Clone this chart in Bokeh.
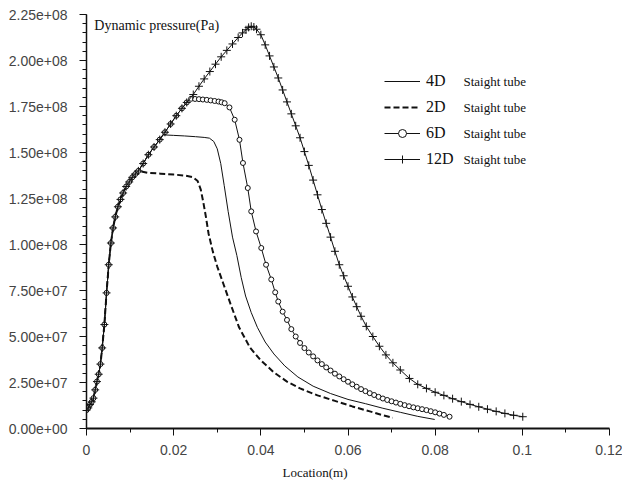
from bokeh.plotting import figure
from bokeh.models import FixedTicker, Legend, LegendItem, Label, Title
from bokeh.embed import file_html
from bokeh.resources import INLINE

# ---- data (Location in m, Dynamic pressure in Pa) ----
# common rising part shared by all four cases
rise_x = [0.0000, 0.0004, 0.0008, 0.0012, 0.0016, 0.0020, 0.0024, 0.0028, 0.0032, 0.0036,
          0.0041, 0.0046, 0.0051, 0.0056, 0.0061, 0.0066, 0.0072, 0.0078, 0.0084, 0.0091,
          0.0098, 0.0105, 0.0112, 0.0119]
rise_y = [1.00e7, 1.12e7, 1.30e7, 1.45e7, 1.65e7, 2.10e7, 2.55e7, 2.95e7, 3.50e7, 4.38e7,
          5.65e7, 7.37e7, 8.90e7, 1.008e8, 1.090e8, 1.150e8, 1.205e8, 1.245e8, 1.280e8, 1.315e8,
          1.340e8, 1.365e8, 1.383e8, 1.400e8]

# shared by 4D, 6D, 12D
upper_x = [0.0130, 0.0142, 0.0155, 0.0168]
upper_y = [1.440e8, 1.488e8, 1.530e8, 1.570e8]

# shared by 6D, 12D
mid_x = [0.0180, 0.0193, 0.0206, 0.0219, 0.0230]
mid_y = [1.610e8, 1.655e8, 1.700e8, 1.740e8, 1.772e8]

# 2D straight tube
d2_x = [0.0140, 0.0170, 0.0200, 0.0225, 0.0245, 0.0255, 0.0262, 0.0268, 0.0274, 0.0280,
        0.0290, 0.0300, 0.0315, 0.0330, 0.0350, 0.0375, 0.0400, 0.0430, 0.0460, 0.0490,
        0.0530, 0.0570, 0.0610, 0.0650, 0.0680, 0.0703]
d2_y = [1.390e8, 1.385e8, 1.380e8, 1.375e8, 1.365e8, 1.345e8, 1.300e8, 1.230e8, 1.150e8, 1.060e8,
        0.960e8, 0.880e8, 0.780e8, 0.680e8, 0.550e8, 0.440e8, 0.370e8, 0.305e8, 0.255e8, 0.218e8,
        0.180e8, 0.150e8, 0.120e8, 0.093e8, 0.072e8, 0.058e8]

# 4D straight tube
d4_x = [0.0175, 0.0200, 0.0225, 0.0250, 0.0270, 0.0282, 0.0292, 0.0300, 0.0308, 0.0316,
        0.0325, 0.0335, 0.0345, 0.0355, 0.0365, 0.0378, 0.0392, 0.0410, 0.0430, 0.0455,
        0.0485, 0.0520, 0.0560, 0.0600, 0.0640, 0.0680, 0.0720, 0.0760, 0.0799]
d4_y = [1.596e8, 1.593e8, 1.590e8, 1.586e8, 1.582e8, 1.578e8, 1.560e8, 1.520e8, 1.440e8, 1.320e8,
        1.180e8, 1.040e8, 0.940e8, 0.820e8, 0.720e8, 0.630e8, 0.550e8, 0.470e8, 0.405e8, 0.340e8,
        0.280e8, 0.230e8, 0.190e8, 0.158e8, 0.135e8, 0.110e8, 0.088e8, 0.066e8, 0.049e8]

# 6D straight tube
d6_x = [0.0240, 0.0249, 0.0258, 0.0267, 0.0276, 0.0285, 0.0294, 0.0303, 0.0310, 0.0317,
        0.0328, 0.0340, 0.0351, 0.0359, 0.0370, 0.0378, 0.0389, 0.0401, 0.0412, 0.0424,
        0.0433, 0.0440, 0.0450, 0.0460, 0.0470, 0.0480, 0.0490, 0.0500, 0.0510, 0.0520,
        0.0530, 0.0540, 0.0550, 0.0560, 0.0570, 0.0580, 0.0590, 0.0600, 0.0610, 0.0620,
        0.0630, 0.0640, 0.0650, 0.0660, 0.0670, 0.0680, 0.0690, 0.0700, 0.0710, 0.0720,
        0.0730, 0.0740, 0.0750, 0.0760, 0.0770, 0.0780, 0.0790, 0.0800, 0.0810, 0.0820,
        0.0833]
d6_y = [1.792e8, 1.791e8, 1.790e8, 1.788e8, 1.786e8, 1.783e8, 1.780e8, 1.777e8, 1.773e8, 1.768e8,
        1.745e8, 1.678e8, 1.569e8, 1.443e8, 1.307e8, 1.180e8, 1.071e8, 0.981e8, 0.890e8, 0.810e8,
        0.740e8, 0.690e8, 0.635e8, 0.590e8, 0.540e8, 0.500e8, 0.465e8, 0.437e8, 0.413e8, 0.392e8,
        0.370e8, 0.350e8, 0.332e8, 0.315e8, 0.298e8, 0.283e8, 0.268e8, 0.254e8, 0.240e8, 0.227e8,
        0.214e8, 0.203e8, 0.192e8, 0.182e8, 0.172e8, 0.163e8, 0.155e8, 0.148e8, 0.141e8, 0.134e8,
        0.127e8, 0.121e8, 0.115e8, 0.110e8, 0.105e8, 0.100e8, 0.094e8, 0.088e8, 0.081e8, 0.074e8,
        0.064e8]

# 12D straight tube
d12_x = [0.0245, 0.0258, 0.0270, 0.0283, 0.0296, 0.0309, 0.0322, 0.0335, 0.0348, 0.0358,
         0.0366, 0.0372, 0.0378, 0.0384, 0.0390, 0.0400, 0.0410, 0.0420, 0.0430, 0.0440,
         0.0450, 0.0460, 0.0470, 0.0480, 0.0490, 0.0500, 0.0510, 0.0520, 0.0530, 0.0540,
         0.0550, 0.0560, 0.0570, 0.0580, 0.0590, 0.0600, 0.0610, 0.0620, 0.0630, 0.0642,
         0.0657, 0.0672, 0.0687, 0.0703, 0.0720, 0.0741, 0.0760, 0.0780, 0.0800, 0.0820,
         0.0840, 0.0860, 0.0880, 0.0900, 0.0920, 0.0940, 0.0960, 0.0980, 0.1001]
d12_y = [1.815e8, 1.860e8, 1.900e8, 1.940e8, 1.980e8, 2.020e8, 2.055e8, 2.090e8, 2.125e8, 2.150e8,
         2.167e8, 2.180e8, 2.186e8, 2.182e8, 2.170e8, 2.140e8, 2.085e8, 2.025e8, 1.965e8, 1.905e8,
         1.840e8, 1.775e8, 1.710e8, 1.645e8, 1.580e8, 1.505e8, 1.430e8, 1.350e8, 1.270e8, 1.190e8,
         1.115e8, 1.040e8, 0.963e8, 0.890e8, 0.830e8, 0.773e8, 0.715e8, 0.662e8, 0.610e8, 0.555e8,
         0.500e8, 0.447e8, 0.400e8, 0.357e8, 0.318e8, 0.272e8, 0.240e8, 0.218e8, 0.197e8, 0.180e8,
         0.162e8, 0.146e8, 0.131e8, 0.118e8, 0.105e8, 0.093e8, 0.082e8, 0.072e8, 0.064e8]

series_names = ["4D", "2D", "6D", "12D"]
series_note = "Staight tube"

x_ticks = [0.0, 0.02, 0.04, 0.06, 0.08, 0.10, 0.12]
x_tick_labels = ["0", "0.02", "0.04", "0.06", "0.08", "0.1", "0.12"]
x_minor = [0.01, 0.03, 0.05, 0.07, 0.09, 0.11]
y_ticks = [0.0, 2.5e7, 5.0e7, 7.5e7, 1.0e8, 1.25e8, 1.5e8, 1.75e8, 2.0e8, 2.25e8]
y_tick_labels = ["0.00e+00", "2.50e+07", "5.00e+07", "7.50e+07", "1.00e+08",
                 "1.25e+08", "1.50e+08", "1.75e+08", "2.00e+08", "2.25e+08"]
y_minor = [i * 5.0e6 for i in range(46)]

x_title = "Location(m)"
y_title = "Dynamic pressure(Pa)"

# ---- assemble series ----
x2 = rise_x + d2_x
y2 = rise_y + d2_y
x4 = rise_x + upper_x + d4_x
y4 = rise_y + upper_y + d4_y
x6 = rise_x + upper_x + mid_x + d6_x
y6 = rise_y + upper_y + mid_y + d6_y
x12 = rise_x + upper_x + mid_x + d12_x
y12 = rise_y + upper_y + mid_y + d12_y

INK = "#111111"

p = figure(width=622, height=484, x_range=(0, 0.12), y_range=(0, 2.25e8),
           output_backend="svg", toolbar_location=None,
           min_border_left=86, min_border_right=13, min_border_top=14, min_border_bottom=54)
p.outline_line_color = None
p.grid.visible = False
p.background_fill_color = "white"
p.border_fill_color = "white"

for ax in (p.xaxis, p.yaxis):
    ax.axis_line_color = INK
    ax.major_tick_line_color = INK
    ax.minor_tick_line_color = INK
    ax.major_tick_in = 0
    ax.minor_tick_in = 0
    ax.major_label_text_font = "Liberation Sans"
    ax.major_label_text_font_size = "14px"
    ax.major_label_text_color = "#444444"

p.xaxis.ticker = FixedTicker(ticks=x_ticks, minor_ticks=x_minor)
p.xaxis.major_label_overrides = dict(zip(x_ticks, x_tick_labels))
p.xaxis.axis_line_width = 2
p.xaxis.major_tick_out = 7
p.xaxis.minor_tick_out = 4
p.xaxis.major_label_standoff = 9

p.yaxis.ticker = FixedTicker(ticks=y_ticks, minor_ticks=y_minor)
p.yaxis.major_label_overrides = dict(zip(y_ticks, y_tick_labels))
p.yaxis.axis_line_width = 1.5
p.yaxis.major_tick_out = 7
p.yaxis.minor_tick_out = 4
p.yaxis.major_label_standoff = 12

# x-axis title, placed like the original (left of centre, under the tick labels)
p.add_layout(Title(text=x_title, align="left", offset=196, text_font="Liberation Serif",
                   text_font_size="13px", text_font_style="normal", text_color=INK,
                   standoff=10), "below")

# ---- curves ----
l4 = p.line(x4, y4, line_color=INK, line_width=1)
l2 = p.line(x2, y2, line_color=INK, line_width=2, line_dash="6 3")
l6 = p.line(x6, y6, line_color=INK, line_width=1)
s6 = p.scatter(x6, y6, marker="circle", size=5, fill_color="white",
               line_color=INK, line_width=1)
l12 = p.line(x12, y12, line_color=INK, line_width=1)
s12 = p.scatter(x12, y12, marker="cross", size=8, line_color=INK, line_width=1)

legend = Legend(items=[LegendItem(label=series_names[0], renderers=[l4]),
                       LegendItem(label=series_names[1], renderers=[l2]),
                       LegendItem(label=series_names[2], renderers=[l6, s6]),
                       LegendItem(label=series_names[3], renderers=[l12, s12])],
                location=(298, 259), orientation="vertical", padding=0, margin=0,
                spacing=6, glyph_width=36, glyph_height=20, label_height=20,
                label_standoff=6, label_text_font="Liberation Serif",
                label_text_font_size="16px", label_text_color=INK,
                background_fill_alpha=0, border_line_color=None)
p.add_layout(legend)

for ly in (1.884e8, 1.743e8, 1.603e8, 1.462e8):
    p.add_layout(Label(x=0.0865, y=ly, text=series_note, text_font="Liberation Serif",
                       text_font_size="13px", text_color=INK, text_baseline="middle"))

p.add_layout(Label(x=0.0018, y=2.188e8, text=y_title, text_font="Liberation Serif",
                   text_font_size="14px", text_color=INK, text_baseline="middle"))

open("out.html", "w").write(file_html(p, INLINE))
